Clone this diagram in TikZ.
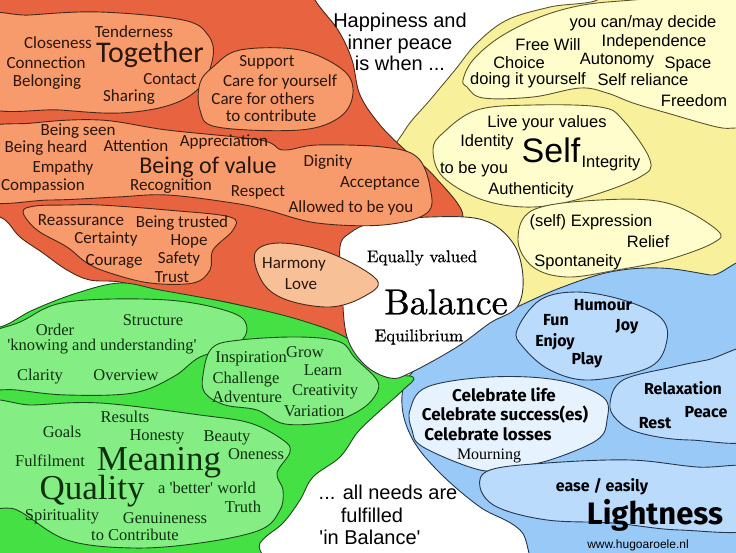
\documentclass[tikz,border=0pt]{standalone}
\usepackage{fontspec}
\usepackage{xcolor}
\newfontfamily\handfont{Carlito}
\newfontfamily\arialfont{Liberation Sans}
\newfontfamily\timesfont{Liberation Serif}
\newfontfamily\funfont{Fira Sans}
\newfontfamily\papyfont{lmroman10-regular.otf}[FakeBold=0.8]
\definecolor{redOuter}{HTML}{E8633F}
\definecolor{redLight}{HTML}{F79A6C}
\definecolor{redPale}{HTML}{F8C097}
\definecolor{redEdge}{HTML}{4A2818}
\definecolor{redText}{HTML}{2A160C}
\definecolor{yelOuter}{HTML}{F8F09A}
\definecolor{yelLight}{HTML}{FEFDCB}
\definecolor{yelEdge}{HTML}{5A5530}
\definecolor{grnOuter}{HTML}{44E044}
\definecolor{grnLight}{HTML}{84EE84}
\definecolor{grnEdge}{HTML}{1A4A1A}
\definecolor{grnText}{HTML}{0E300E}
\definecolor{bluOuter}{HTML}{99C9F7}
\definecolor{bluLight}{HTML}{BBDBFC}
\definecolor{bluPale}{HTML}{E6F2FE}
\definecolor{bluEdge}{HTML}{243650}

\begin{document}
\begin{tikzpicture}[
  x=1pt, y=-1pt,
  blob/.style={smooth cycle, tension=0.6},
  region/.style={line width=0.9pt, line join=round},
  redarea/.style={region, draw=redEdge, fill=redOuter},
  redsub/.style={region, draw=redEdge, fill=redLight},
  yelarea/.style={region, draw=yelEdge, fill=yelOuter},
  yelsub/.style={region, draw=yelEdge, fill=yelLight},
  grnarea/.style={region, draw=grnEdge, fill=grnOuter},
  grnsub/.style={region, draw=grnEdge, fill=grnLight},
  bluarea/.style={region, draw=bluEdge, fill=bluOuter},
  blusub/.style={region, draw=bluEdge, fill=bluLight},
  word/.style={inner sep=0pt, anchor=center},
  redtxt/.style={word, text=redText, font=\handfont\fontsize{17}{17}\selectfont},
  yeltxt/.style={word, text=black, font=\arialfont\fontsize{16.5}{16.5}\selectfont},
  headtxt/.style={word, text=black, font=\arialfont\fontsize{20}{21.5}\selectfont},
  baltxt/.style={word, text=black, font=\papyfont\fontsize{17}{17}\selectfont},
  grntxt/.style={word, text=grnText, font=\timesfont\fontsize{16.5}{16.5}\selectfont},
  blutxt/.style={word, text=black, font=\funfont\bfseries\fontsize{16}{16}\selectfont}
]
  \useasboundingbox (0,0) rectangle (736,552);
  \clip (0,0) rectangle (736,552);

  \filldraw[yelarea] plot[blob] coordinates {(560,-40) (600,-3) (550,7) (507,20) (477,43)
    (455,70) (430,100) (405,130) (395,160) (420,235) (480,290) (540,320) (760,320) (760,-40)};
  \filldraw[bluarea] plot[blob] coordinates {(517,307) (560,288) (610,272) (660,268)
    (710,275) (760,285) (760,580) (560,580) (520,530) (480,507) (440,473) (413,440)
    (402,405) (410,375) (450,345) (490,320)};
  \filldraw[redarea] plot[blob] coordinates {(-40,-40) (295,-40) (315,0) (338,30) (352,60)
    (360,95) (380,125) (405,150) (435,177) (463,217) (430,240) (380,260) (355,300)
    (352,342) (300,322) (230,303) (160,292) (120,282) (90,280) (67,270) (43,253)
    (20,237) (0,217) (-40,212)};
  \filldraw[grnarea] plot[blob] coordinates {(-40,330) (0,327) (33,310) (77,293) (120,283)
    (160,290) (230,303) (300,320) (350,340) (380,372) (413,377) (403,390) (373,417)
    (357,433) (340,457) (313,477) (300,500) (283,523) (260,543) (240,580) (-40,580)};
  \filldraw[region, draw=black!80, fill=white] plot[blob] coordinates {(340,247) (350,233)
    (373,223) (430,217) (483,220) (513,243) (523,277) (517,307) (490,323) (457,347)
    (410,373) (390,378) (365,365) (347,337) (342,290)};

  \filldraw[redsub] plot[blob] coordinates {(-20,20) (30,15) (100,12) (183,20) (208,35)
    (213,57) (200,87) (170,105) (120,113) (60,110) (-20,103)};
  \filldraw[redsub] plot[blob] coordinates {(200,83) (213,67) (240,50) (300,50) (343,70)
    (353,93) (340,117) (300,130) (217,127) (200,110)};
  \filldraw[redsub] plot[blob] coordinates {(-20,133) (33,123) (100,120) (167,130)
    (260,140) (283,150) (317,145) (383,147) (417,157) (430,187) (427,213) (383,225)
    (317,223) (267,210) (233,203) (167,195) (117,197) (50,200) (-20,198)};
  \filldraw[redsub] plot[blob] coordinates {(23,212) (35,206) (67,205) (100,205) (167,210)
    (230,217) (233,230) (213,250) (210,270) (193,283) (150,283) (110,273) (87,263)
    (67,247) (37,230)};
  \filldraw[region, draw=redEdge, fill=redPale] plot[blob] coordinates {(255,253) (280,243)
    (330,253) (377,280) (363,297) (330,307) (287,300) (263,283)};

  \filldraw[yelsub] plot[blob] coordinates {(463,80) (473,60) (500,37) (540,17) (583,5)
    (633,0) (700,-5) (760,-5) (760,128) (736,128) (717,127) (667,113) (633,103)
    (607,93) (580,88) (533,97) (483,98) (467,87)};
  \filldraw[yelsub] plot[blob] coordinates {(433,150) (443,133) (477,110) (533,105)
    (600,107) (623,120) (650,160) (640,177) (587,197) (533,207) (483,200) (443,177)};
  \filldraw[yelsub] plot[blob] coordinates {(518,240) (533,210) (600,200) (667,203)
    (717,230) (713,243) (667,260) (617,270) (567,277) (533,267)};

  \filldraw[grnsub] plot[blob] coordinates {(-20,340) (20,322) (67,302) (167,300)
    (233,313) (247,330) (233,347) (200,357) (173,377) (133,393) (67,395) (17,390)
    (-20,385)};
  \filldraw[grnsub] plot[blob] coordinates {(203,375) (212,348) (240,340) (300,337)
    (340,342) (355,358) (378,382) (372,400) (355,413) (330,422) (285,424) (257,410)
    (225,405) (205,393)};
  \filldraw[grnsub] plot[blob] coordinates {(-20,407) (33,405) (100,403) (200,415)
    (250,423) (283,440) (290,452) (277,473) (283,490) (280,510) (260,530) (200,543)
    (133,548) (67,540) (17,510) (-20,500)};

  \filldraw[blusub] plot[blob] coordinates {(517,330) (540,300) (577,292) (623,300)
    (660,317) (667,340) (650,367) (590,380) (550,370) (523,347)};
  \filldraw[region, draw=bluEdge, fill=bluPale] plot[blob] coordinates {(410,410) (427,387)
    (490,377) (557,380) (603,397) (607,420) (597,440) (550,460) (513,467) (480,470)
    (423,447) (412,430)};
  \filldraw[blusub] plot[blob] coordinates {(610,403) (623,380) (673,367) (707,360)
    (760,350) (760,435) (690,440) (640,433) (617,420)};
  \filldraw[blusub] plot[blob] coordinates {(480,487) (490,470) (547,463) (630,460)
    (697,467) (760,470) (760,527) (680,530) (613,523) (547,520) (497,507)};

  \node[headtxt, align=center] (happiness) at (400,42) {Happiness and\\inner peace\\is when ...};
  \node[headtxt] (needs) at (388,492) {... all needs are};
  \node[headtxt] (fulfilled) at (372,515) {fulfilled};
  \node[headtxt] (inbalance) at (370,537) {\textquotesingle in Balance\textquotesingle};

  \node[redtxt] (tenderness) at (134,32) {Tenderness};
  \node[redtxt] (closeness) at (58,43) {Closeness};
  \node[redtxt, font=\handfont\fontsize{30}{30}\selectfont] (together) at (150,55) {Together};
  \node[redtxt] (connection) at (46,63) {Connection};
  \node[redtxt] (contact) at (170,79) {Contact};
  \node[redtxt] (belonging) at (47,82) {Belonging};
  \node[redtxt] (sharing) at (129,97) {Sharing};
  \node[redtxt] (support) at (267,62) {Support};
  \node[redtxt] (careself) at (280,82) {Care for yourself};
  \node[redtxt] (careothers) at (263,99) {Care for others};
  \node[redtxt] (contribute) at (271,116) {to contribute};
  \node[redtxt] (beingseen) at (78,131) {Being seen};
  \node[redtxt] (beingheard) at (46,148) {Being heard};
  \node[redtxt] (attention) at (136,146) {Attention};
  \node[redtxt] (appreciation) at (224,142) {Appreciation};
  \node[redtxt] (empathy) at (63,168) {Empathy};
  \node[redtxt, font=\handfont\fontsize{24}{24}\selectfont] (beingvalue) at (208,167) {Being of value};
  \node[redtxt] (dignity) at (328,162) {Dignity};
  \node[redtxt] (compassion) at (43,186) {Compassion};
  \node[redtxt] (recognition) at (171,186) {Recognition};
  \node[redtxt] (respect) at (258,192) {Respect};
  \node[redtxt] (acceptance) at (380,183) {Acceptance};
  \node[redtxt] (allowed) at (351,208) {Allowed to be you};
  \node[redtxt] (reassurance) at (81,220) {Reassurance};
  \node[redtxt] (trusted) at (182,223) {Being trusted};
  \node[redtxt] (certainty) at (106,239) {Certainty};
  \node[redtxt] (hope) at (189,241) {Hope};
  \node[redtxt] (courage) at (114,261) {Courage};
  \node[redtxt] (safety) at (179,259) {Safety};
  \node[redtxt] (trust) at (172,277) {Trust};
  \node[redtxt] (harmony) at (294,264) {Harmony};
  \node[redtxt] (love) at (301,284) {Love};

  \node[yeltxt] (decide) at (643,23) {you can/may decide};
  \node[yeltxt] (freewill) at (548,45) {Free Will};
  \node[yeltxt] (independence) at (654,42) {Independence};
  \node[yeltxt] (choice) at (519,63) {Choice};
  \node[yeltxt] (autonomy) at (617,61) {Autonomy};
  \node[yeltxt] (space) at (688,64) {Space};
  \node[yeltxt] (yourself) at (528,80) {doing it yourself};
  \node[yeltxt] (reliance) at (643,80) {Self reliance};
  \node[yeltxt] (freedom) at (694,101) {Freedom};
  \node[yeltxt] (values) at (547,123) {Live your values};
  \node[yeltxt] (identity) at (487,142) {Identity};
  \node[yeltxt, font=\arialfont\fontsize{34}{34}\selectfont] (self) at (551,150) {Self};
  \node[yeltxt] (integrity) at (611,163) {Integrity};
  \node[yeltxt] (tobeyou) at (474,169) {to be you};
  \node[yeltxt] (authenticity) at (531,190) {Authenticity};
  \node[yeltxt] (expression) at (591,222) {(self) Expression};
  \node[yeltxt] (relief) at (648,242) {Relief};
  \node[yeltxt] (spontaneity) at (578,262) {Spontaneity};

  \node[baltxt] (equally) at (422,258) {Equally valued};
  \node[baltxt, font=\papyfont\fontsize{36}{36}\selectfont] (balance) at (446,302) {Balance};
  \node[baltxt] (equilibrium) at (419,337) {Equilibrium};

  \node[grntxt] (order) at (55,330) {Order};
  \node[grntxt] (structure) at (153,320) {Structure};
  \node[grntxt] (knowing) at (102,347) {\textquotesingle knowing and understanding\textquotesingle};
  \node[grntxt] (clarity) at (40,377) {Clarity};
  \node[grntxt] (overview) at (126,375) {Overview};
  \node[grntxt] (inspiration) at (251,359) {Inspiration};
  \node[grntxt] (grow) at (305,352) {Grow};
  \node[grntxt] (learn) at (323,370) {Learn};
  \node[grntxt] (challenge) at (246,380) {Challenge};
  \node[grntxt] (creativity) at (325,392) {Creativity};
  \node[grntxt] (adventure) at (247,397) {Adventure};
  \node[grntxt] (variation) at (314,411) {Variation};
  \node[grntxt] (results) at (125,417) {Results};
  \node[grntxt] (goals) at (62,432) {Goals};
  \node[grntxt] (honesty) at (157,437) {Honesty};
  \node[grntxt] (beauty) at (227,438) {Beauty};
  \node[grntxt] (oneness) at (256,454) {Oneness};
  \node[grntxt] (fulfilment) at (50,461) {Fulfilment};
  \node[grntxt, font=\timesfont\fontsize{35}{35}\selectfont] (meaning) at (159,463) {Meaning};
  \node[grntxt, font=\timesfont\fontsize{35}{35}\selectfont] (quality) at (92,491) {Quality};
  \node[grntxt] (better) at (207,488) {a \textquotesingle better\textquotesingle{} world};
  \node[grntxt] (truth) at (243,507) {Truth};
  \node[grntxt] (spirituality) at (62,517) {Spirituality};
  \node[grntxt] (genuineness) at (165,518) {Genuineness};
  \node[grntxt] (tocontribute) at (135,535) {to Contribute};

  \node[blutxt] (humour) at (603,305) {Humour};
  \node[blutxt] (fun) at (556,320) {Fun};
  \node[blutxt] (joy) at (627,327) {Joy};
  \node[blutxt] (enjoy) at (555,342) {Enjoy};
  \node[blutxt] (play) at (587,360) {Play};
  \node[blutxt, font=\funfont\bfseries\fontsize{17}{17}\selectfont] (celebratelife) at (504,395) {Celebrate life};
  \node[blutxt, font=\funfont\bfseries\fontsize{17}{17}\selectfont] (celebratesuccess) at (505,415) {Celebrate success(es)};
  \node[blutxt, font=\funfont\bfseries\fontsize{17}{17}\selectfont] (celebratelosses) at (488,434) {Celebrate losses};
  \node[word, font=\timesfont\fontsize{16}{16}\selectfont] (mourning) at (489,456) {Mourning};
  \node[blutxt] (relaxation) at (683,388) {Relaxation};
  \node[blutxt] (peace) at (706,412) {Peace};
  \node[blutxt] (rest) at (655,423) {Rest};
  \node[blutxt] (ease) at (602,487) {ease / easily};
  \node[blutxt, font=\funfont\bfseries\fontsize{31}{31}\selectfont] (lightness) at (655,515) {Lightness};
  \node[word, font=\arialfont\fontsize{12}{12}\selectfont] (website) at (638,545) {www.hugoaroele.nl};
\end{tikzpicture}
\end{document}
